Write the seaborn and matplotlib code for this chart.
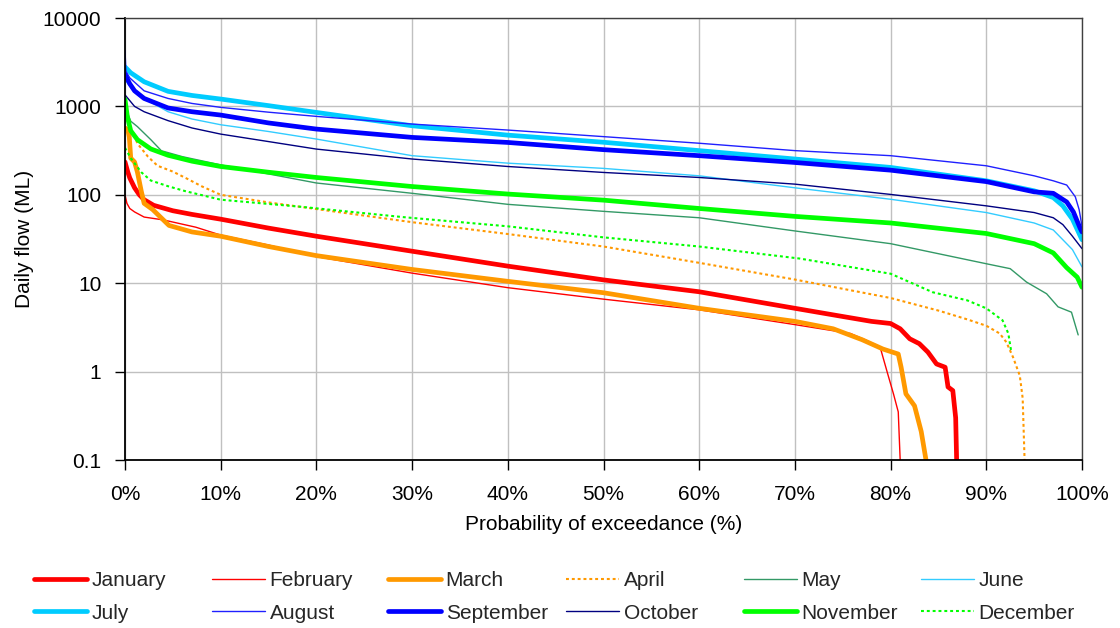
import matplotlib
matplotlib.use("Agg")
import matplotlib.pyplot as plt
from matplotlib.ticker import FixedLocator, NullLocator, FixedFormatter
import seaborn as sns

# ---------------- data (probability of exceedance %, daily flow ML) ----------------
months = ["January", "February", "March", "April", "May", "June",
          "July", "August", "September", "October", "November", "December"]

jan_x = [0, 0.3, 0.5, 1, 1.5, 2, 3, 5, 7, 10, 15, 20, 30, 40, 50, 60, 70, 75, 78, 80,
         81, 82, 83, 83.9, 84.8, 85.7, 86.0, 86.5, 86.8, 86.9]
jan_y = [235, 180, 155, 120, 100, 88, 76, 66, 60, 53, 42, 34, 23, 15.6, 10.9, 8.0, 5.2, 4.2, 3.7, 3.5,
         3.05, 2.35, 2.07, 1.66, 1.22, 1.12, 0.67, 0.61, 0.3, 0.1]

feb_x = [0, 0.2, 0.5, 1, 2, 4, 7.4, 10, 15, 20, 30, 40, 50, 60, 70, 75.8, 77.5, 78.9,
         79.7, 80.3, 80.8, 81]
feb_y = [100, 80, 70, 64, 56, 52, 43, 35, 27, 20, 13, 8.9, 6.6, 5.0, 3.4, 2.7, 2.25, 1.9,
         0.94, 0.56, 0.35, 0.1]

mar_x = [0, 0.3, 0.45, 0.6, 1.0, 1.3, 1.7, 2.0, 2.9, 4.6, 7, 10, 15, 20, 30, 40, 50, 60, 70,
         74, 77, 79.2, 80.8, 81.1, 81.6, 82.5, 83.2, 83.7]
mar_y = [570, 540, 450, 260, 235, 180, 110, 80, 68, 45, 38, 34, 26, 20.5, 14.3, 10.5, 7.8, 5.2, 3.7,
         3.05, 2.3, 1.8, 1.58, 1.12, 0.56, 0.41, 0.21, 0.1]

apr_x = [0, 1, 1.3, 2.4, 3.4, 5, 6.6, 8, 10, 15, 20, 30, 40, 50, 60, 70, 80, 85, 88, 90,
         91.4, 92.1, 92.8, 93.5, 93.8, 94.0]
apr_y = [580, 460, 380, 270, 213, 183, 150, 125, 100, 82, 69, 49, 36, 26, 17, 11, 6.8, 4.9, 3.9, 3.3,
         2.7, 2.15, 1.45, 0.9, 0.5, 0.1]

may_x = [0, 0.6, 1.3, 2.7, 3.8, 6, 10, 20, 30, 40, 50, 60, 70, 80, 90, 92.5, 94.2, 96.3,
         97.5, 98.9, 99.6]
may_y = [1000, 680, 590, 420, 315, 270, 218, 136, 104, 78, 65, 55, 39, 28, 16.6, 14.6, 10.3, 7.6,
         5.4, 4.7, 2.6]

jun_x = [0, 1, 2, 4.5, 7, 10, 15, 20, 30, 40, 50, 60, 70, 80, 90, 95, 97, 98, 99, 100]
jun_y = [2000, 1450, 1230, 870, 720, 620, 520, 427, 277, 228, 199, 164, 120, 89, 63, 48, 40, 31, 24, 15.3]

jul_x = [0, 0.6, 2, 4.5, 7, 10, 15, 20, 30, 40, 50, 60, 70, 80, 90, 95, 97, 98, 99, 100]
jul_y = [2800, 2400, 1900, 1480, 1330, 1211, 1020, 855, 604, 473, 393, 316, 254, 204, 144, 111, 93, 75, 53, 31]

aug_x = [0, 0.1, 0.5, 2, 4.5, 7, 10, 15, 20, 30, 40, 50, 60, 70, 80, 90, 95, 97, 98.4, 99.3, 99.7, 100]
aug_y = [4300, 2500, 2100, 1500, 1230, 1080, 975, 860, 771, 631, 540, 455, 383, 316, 277, 213, 164, 144,
         129, 95, 68, 44]

sep_x = [0, 0.5, 1, 2, 4.5, 7, 10, 15, 20, 30, 40, 50, 60, 70, 80, 90, 95, 97, 98.4, 99.1, 99.8, 100]
sep_y = [2300, 1800, 1500, 1230, 960, 870, 798, 650, 554, 446, 391, 324, 277, 232, 190, 141, 108, 104,
         83, 64, 42, 38]

oct_x = [0, 1, 2, 4.5, 7, 10, 15, 20, 30, 40, 50, 60, 70, 80, 90, 95, 97, 98, 99, 100]
oct_y = [1350, 1000, 870, 690, 570, 486, 400, 329, 254, 209, 179, 157, 132, 101, 75, 63, 55, 46, 34, 24.6]

nov_x = [0, 0.25, 0.6, 1.3, 2.7, 4.5, 7, 10, 15, 20, 30, 40, 50, 60, 70, 80, 90, 95, 97, 98.4, 99.5, 100]
nov_y = [1200, 760, 530, 420, 330, 280, 240, 209, 180, 157, 124, 102, 87, 70, 57, 48, 36.5, 28, 22, 15,
         11.7, 9.0]

dec_x = [0, 0.6, 1.7, 2.7, 4.5, 6.3, 10, 18.5, 29, 40, 50, 60, 70.5, 80, 84.4, 88, 90, 91.7,
         92.3, 92.6]
dec_y = [340, 260, 180, 145, 125, 110, 88, 73, 56, 44, 33, 26, 19, 12.8, 7.9, 6.4, 5.2, 3.8,
         2.7, 1.7]

y_ticks = [0.1, 1, 10, 100, 1000, 10000]
y_tick_labels = ["0.1", "1", "10", "100", "1000", "10000"]
x_ticks = [0, 10, 20, 30, 40, 50, 60, 70, 80, 90, 100]
x_tick_labels = ["0%", "10%", "20%", "30%", "40%", "50%", "60%", "70%", "80%", "90%", "100%"]

series_x = [jan_x, feb_x, mar_x, apr_x, may_x, jun_x, jul_x, aug_x, sep_x, oct_x, nov_x, dec_x]
series_y = [jan_y, feb_y, mar_y, apr_y, may_y, jun_y, jul_y, aug_y, sep_y, oct_y, nov_y, dec_y]

# ---------------- styles ----------------
THICK, THIN, DOT = 3.4, 1.0, 1.5
dotted = (0, (1.4, 1.4))
styles = [
    ("#FF0000", THICK, "-"),
    ("#FF0000", THIN, "-"),
    ("#FF9900", THICK, "-"),
    ("#FF9900", DOT, dotted),
    ("#339966", THIN, "-"),
    ("#33CCFF", THIN, "-"),
    ("#00CCFF", THICK, "-"),
    ("#2020FF", THIN, "-"),
    ("#0000FF", THICK, "-"),
    ("#000080", THIN, "-"),
    ("#00FF00", THICK, "-"),
    ("#00FF00", DOT, dotted),
]

sns.set_theme(style="white")
plt.rcParams['font.family'] = ['Liberation Sans', 'DejaVu Sans']
FS = 15

W, H = 1120, 628
fig = plt.figure(figsize=(W / 100, H / 100), dpi=100)
ax = fig.add_axes([125 / W, 1 - 460 / H, (1082 - 125) / W, (460 - 18) / H])

handles = []
for name, xs, ys, (c, lw, ls) in zip(months, series_x, series_y, styles):
    sns.lineplot(x=xs, y=ys, ax=ax, color=c, linewidth=lw, linestyle=ls,
                 estimator=None, sort=False, legend=False)
    ln = ax.lines[-1]
    ln.set_label(name)
    handles.append(ln)

if ax.get_legend() is not None:
    ax.get_legend().remove()

ax.set_yscale("log")
ax.set_ylim(0.1, 10000)
ax.set_xlim(0, 100)
ax.yaxis.set_major_locator(FixedLocator(y_ticks))
ax.yaxis.set_major_formatter(FixedFormatter(y_tick_labels))
ax.yaxis.set_minor_locator(NullLocator())
ax.xaxis.set_major_locator(FixedLocator(x_ticks))
ax.xaxis.set_major_formatter(FixedFormatter(x_tick_labels))

ax.grid(True, which="major", color="#C0C0C0", linewidth=1.0)
ax.set_axisbelow(True)
for side, sp in ax.spines.items():
    sp.set_color("black" if side in ("left", "bottom") else "#404040")
    sp.set_linewidth(1.3 if side in ("left", "bottom") else 1.0)
    sp.set_visible(True)

ax.tick_params(axis="x", which="major", direction="out", length=7, width=1, color="black",
               labelsize=FS, pad=11, bottom=True)
ax.tick_params(axis="y", which="major", direction="out", length=7, width=1, color="black",
               labelsize=FS, pad=10, left=True)

ax.set_xlabel("Probability of exceedance (%)", fontsize=FS, labelpad=8, color="black")
ax.set_ylabel("Daily flow (ML)", fontsize=FS, labelpad=6, color="black")
for t in ax.get_xticklabels() + ax.get_yticklabels():
    t.set_color("black")

# legend: six columns of two rows each, placed at fixed column positions
col_left_px = [34, 212, 388, 566, 744, 921]
for i, xpx in enumerate(col_left_px):
    hs = [handles[i], handles[i + 6]]
    fig.legend(hs, [h.get_label() for h in hs], loc="upper left",
               bbox_to_anchor=(xpx / W, 1 - 571 / H), frameon=False,
               fontsize=FS, borderpad=0, borderaxespad=0, handlelength=2.55,
               handletextpad=0.22, labelspacing=0.66)

fig.savefig("out.png", dpi=100)
